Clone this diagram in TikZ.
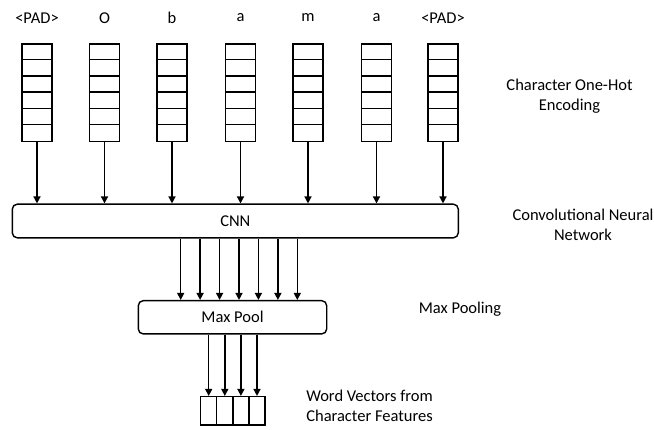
\documentclass[tikz,border=0pt]{standalone}
\usepackage{fontspec}
\setmainfont{Carlito}
\usetikzlibrary{arrows.meta,calc}
\begin{document}
\begin{tikzpicture}[x=1pt,y=-1pt,
  every node/.style={font=\fontsize{16.5}{20}\selectfont, inner sep=0pt, align=center},
  stack/.style={draw, line width=1.4pt, minimum width=30pt, minimum height=97.7pt},
  cell/.style={draw, line width=1.4pt, minimum width=16.1pt, minimum height=28.3pt},
  block/.style={draw, line width=1.4pt, rounded corners=5pt},
  arr/.style={line width=1.4pt, -{Triangle[length=7pt,width=7pt]}},
  lbl/.style={}]
\useasboundingbox (0,0) rectangle (654,430);
% stacks and letters
\foreach \i/\x/\t in {1/37/{<PAD>},2/104.5/O,3/172/b,4/240.5/a,5/308/m,6/376.5/a,7/443/{<PAD>}}{
  \node[lbl] (l\i) at (\x,18) {\t};
  \node[stack] (s\i) at (\x,92.8) {};
  \foreach \k in {1,...,5}{
    \draw[line width=1.4pt] ($(s\i.north west)+(0,\k*16.28)$) -- ($(s\i.north east)+(0,\k*16.28)$);
  }
}
% CNN
\node[block, minimum width=446pt, minimum height=33.7pt] (cnn) at (235.3,221) {CNN};
\foreach \i in {1,...,7}{
  \draw[arr] (s\i.south) -- (s\i.south |- cnn.north);
}
% Max Pool
\node[block, minimum width=188.4pt, minimum height=33.3pt] (mp) at (232.5,317.3) {Max Pool};
\foreach \x in {180.7,200.1,219.6,239.0,258.4,277.9,297.3}{
  \draw[arr] (\x,0 |- cnn.south) -- (\x,0 |- mp.north);
}
% word vector
\foreach \i/\x in {1/208.7,2/224.8,3/240.9,4/257.0}{
  \node[cell] (v\i) at (\x,410.8) {};
  \draw[arr] (v\i.north |- mp.south) -- (v\i.north);
}
% side labels
\node (t1) at (569.5,96) {Character One-Hot\\Encoding};
\node (t2) at (583,225) {Convolutional Neural\\Network};
\node (t3) at (460,309) {Max Pooling};
\node (t4) at (369.5,406) {Word Vectors from\\Character Features};
\end{tikzpicture}
\end{document}
